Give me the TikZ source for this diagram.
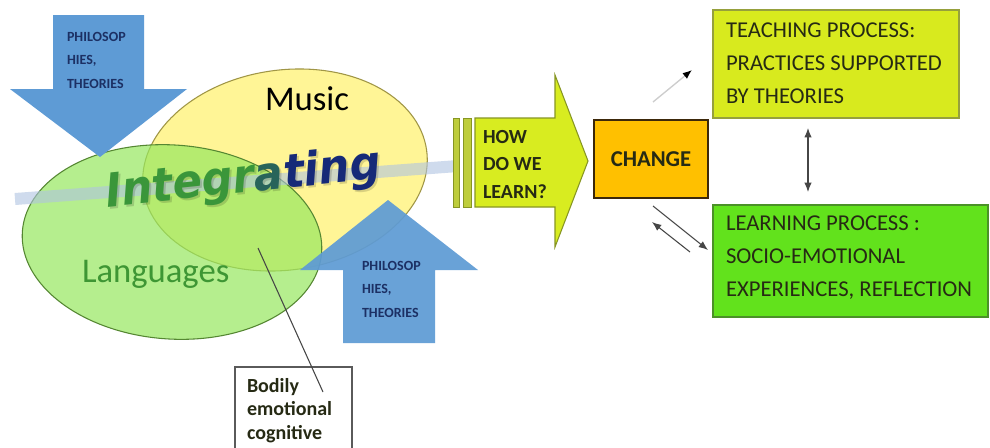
\documentclass[tikz,border=0pt]{standalone}
\usepackage{fontspec}
\setmainfont{Carlito}
\newfontfamily\artfont{DejaVu Sans}
\usetikzlibrary{arrows.meta,fit}

\definecolor{arrowblue}{RGB}{94,155,213}
\definecolor{philotext}{RGB}{28,48,100}
\definecolor{musicfill}{RGB}{255,245,150}
\definecolor{musicline}{RGB}{160,150,70}
\definecolor{langfill}{RGB}{150,232,95}
\definecolor{langline}{RGB}{85,135,50}
\definecolor{langtext}{RGB}{62,150,52}
\definecolor{bandblue}{RGB}{175,195,225}
\definecolor{intgreen}{RGB}{58,150,58}
\definecolor{intmid}{RGB}{40,100,90}
\definecolor{intblue}{RGB}{22,42,120}
\definecolor{howfill}{RGB}{216,236,32}
\definecolor{howline}{RGB}{135,150,35}
\definecolor{barfill}{RGB}{190,205,60}
\definecolor{changefill}{RGB}{255,192,0}
\definecolor{changeline}{RGB}{60,40,10}
\definecolor{teachfill}{RGB}{216,234,30}
\definecolor{teachline}{RGB}{150,160,60}
\definecolor{learnfill}{RGB}{98,226,28}
\definecolor{learnline}{RGB}{75,145,40}
\definecolor{boxtext}{RGB}{38,42,20}
\definecolor{linkgrey}{RGB}{70,70,70}
\definecolor{fadegrey}{RGB}{205,205,205}
\definecolor{boxgrey}{RGB}{90,90,90}

\begin{document}
\begin{tikzpicture}[x=0.75pt, y=-0.75pt,
  every node/.style={inner sep=0pt, outer sep=0pt},
  philo/.style={font=\fontsize{10.5}{17.5}\selectfont\bfseries, text=philotext, align=left, anchor=base west},
  boxlabel/.style={font=\fontsize{17}{24.4}\selectfont, text=boxtext, align=left, anchor=base west},
  link/.style={draw=linkgrey, line width=0.8pt},
  tip/.style={-{Latex[length=7pt,width=5.5pt]}},
  twotip/.style={{Latex[length=7pt,width=5.5pt]}-{Latex[length=7pt,width=5.5pt]}},
]
\useasboundingbox (0,0) rectangle (990,447);
\clip (0,0) rectangle (990,447);
\fill[white] (0,0) rectangle (990,447);

% overlapping ellipses
\draw[musicline, fill=musicfill, line width=0.8pt] (285,170) ellipse [x radius=143, y radius=100, rotate=8];
\draw[langline, fill=langfill, fill opacity=0.7, line width=0.8pt] (172,242) ellipse [x radius=150, y radius=97, rotate=-4];

% translucent band
\draw[bandblue, line width=9pt, opacity=0.6] (15,199) -- (458,166);

% block arrows pointing at the circles (multi-line labels sit on their last baseline)
\fill[arrowblue] (53,15) -- (144,15) -- (144,89) -- (187,89) -- (100,157) -- (10,89) -- (53,89) -- cycle;
\node[philo] (philtop) at (67,88) {PHILOSOP\\HIES,\\THEORIES};
\fill[arrowblue, opacity=0.93] (388,200) -- (478,270) -- (435,270) -- (435,343) -- (343,343) -- (343,270) -- (300,270) -- cycle;
\node[philo] (philbot) at (362,317) {PHILOSOP\\HIES,\\THEORIES};

% word art
\node[rotate=6, anchor=base west, text=black, opacity=0.15] (integshadow) at (109,209)
  {\artfont\bfseries\itshape\fontsize{35}{35}\selectfont\scalebox{0.93}[1]{Integrating}};
\node[rotate=6, anchor=base west] (integ) at (107,207)
  {\artfont\bfseries\itshape\fontsize{35}{35}\selectfont\scalebox{0.93}[1]{\textcolor{intgreen}{Integr}\textcolor{intmid}{a}\textcolor{intblue}{ting}}};

\node[anchor=base west, font=\fontsize{26}{26}\selectfont] (music) at (265,110) {Music};
\node[anchor=base west, font=\fontsize{26}{26}\selectfont, text=langtext] (lang) at (82,282) {Languages};

% note box
\node[draw=boxgrey, line width=0.8pt, fit={(235,367) (352,470)}] (bodybox) {};
\node[anchor=base west, font=\fontsize{15}{17.5}\selectfont\bfseries, align=left, text=boxtext] (bodytext) at (247,439) {Bodily\\emotional\\cognitive};
\coordinate (overlap) at (258,248);
\coordinate (bodyend) at (323,392);
\draw[link] (overlap) -- (bodyend);

% question arrow
\draw[howline, fill=barfill, line width=0.6pt] (453,118) rectangle (459,207);
\draw[howline, fill=barfill, line width=0.6pt] (463,118) rectangle (471,207);
\draw[howline, fill=howfill, line width=0.8pt] (475,118) -- (555,118) -- (555,75) -- (588,161) -- (555,247) -- (555,207) -- (475,207) -- cycle;
\node[font=\fontsize{15}{20.6}\selectfont\bfseries, anchor=base west, align=left, text=boxtext] (how) at (483,198) {HOW\\DO WE\\LEARN?};

% boxes
\node[draw=changeline, line width=1.3pt, fill=changefill, fit={(594,120) (708,198)}] (change) {};
\node[font=\fontsize{17}{17}\selectfont\bfseries, text=boxtext] (changetext) at (change.center) {CHANGE};
\node[draw=teachline, line width=0.8pt, fill=teachfill, fit={(713,10) (959,118)}] (teach) {};
\node[boxlabel] (teachtext) at (726,103) {TEACHING PROCESS:\\PRACTICES SUPPORTED\\BY THEORIES};
\node[draw=learnline, line width=0.8pt, fill=learnfill, fit={(713,205) (988,317)}] (learn) {};
\node[boxlabel] (learntext) at (726,296) {LEARNING PROCESS :\\SOCIO-EMOTIONAL\\EXPERIENCES, REFLECTION};

% connectors
\coordinate (toteachA) at (653,102);
\coordinate (toteachB) at (692,70);
\draw[fadegrey, line width=1pt, -{Latex[length=7pt,width=5.5pt,color=black]}] (toteachA) -- (toteachB);
\coordinate (vertA) at (808,128);
\coordinate (vertB) at (808,192);
\draw[link, twotip] (vertA) -- (vertB);
\coordinate (outA) at (653,206);
\coordinate (outB) at (708,250);
\draw[link, tip] (outA) -- (outB);
\coordinate (backA) at (690,252);
\coordinate (backB) at (652,222);
\draw[link, tip] (backA) -- (backB);
\end{tikzpicture}
\end{document}
